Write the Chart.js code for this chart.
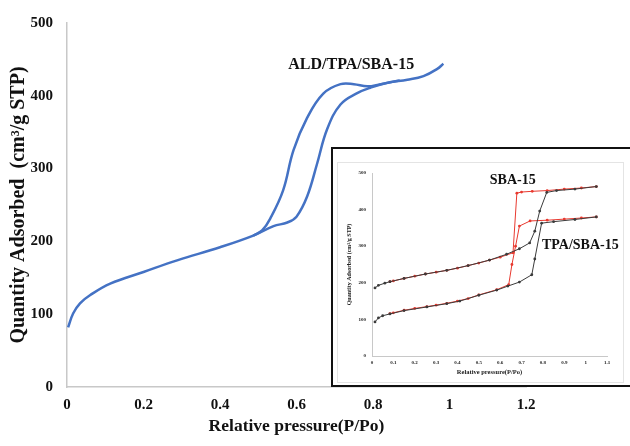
<!DOCTYPE html>
<html>

<head>
  <title>ALD/TPA/SBA-15</title>
  <script src="https://cdn.jsdelivr.net/npm/chart.js@4.4.1/dist/chart.umd.min.js"></script>
  <style>
    body { margin: 0; background: #fff; }
    #wrap { position: relative; width: 630px; height: 446px; overflow: hidden; }
    #inset { position: absolute; left: 331px; top: 147px; width: 310px; height: 236px; border: 2.5px solid #111; background: #fff; }
    #insetFrame { position: absolute; left: 4px; top: 13px; width: 285px; height: 219px; border: 1px solid #e4e4e4; }
  </style>
</head>

<body>
  <div id="wrap">
    <canvas id="main-chart" width="630" height="446"></canvas>
    <div id="inset">
      <div id="insetFrame">
        <canvas id="inset-chart" width="285" height="219"></canvas>
      </div>
    </div>
  </div>

  <script>
    // main isotherm (ALD/TPA/SBA-15), [P/Po, cm3/g]
    const aldAdsorption = [[0.003, 82], [0.016, 101], [0.034, 115], [0.06, 126], [0.113, 142], [0.2, 158], [0.288, 174],
      [0.4, 192], [0.487, 208], [0.54, 221], [0.576, 226], [0.6, 234], [0.628, 262], [0.654, 307], [0.68, 354],
      [0.715, 388], [0.76, 404], [0.793, 411], [0.838, 418], [0.89, 422], [0.932, 427], [0.968, 437], [0.984, 444]];
    const aldDesorption = [[0.87, 421], [0.82, 416], [0.785, 413], [0.75, 416], [0.715, 416], [0.67, 403], [0.628, 370],
      [0.592, 325], [0.565, 270], [0.531, 231], [0.51, 215], [0.487, 208]];

    // inset: SBA-15 and TPA/SBA-15
    const sbaAdsorption = [[0.014, 186], [0.03, 193], [0.06, 199], [0.084, 203], [0.15, 212], [0.25, 224], [0.35, 234],
      [0.45, 247], [0.55, 262], [0.63, 278], [0.69, 293], [0.738, 309], [0.762, 341], [0.785, 396], [0.818, 447],
      [0.864, 452], [0.95, 456], [1.05, 463]];
    const sbaDesorption = [[1.05, 463], [0.98, 459], [0.9, 456], [0.82, 452], [0.75, 450], [0.7, 448], [0.678, 445],
      [0.66, 282], [0.6, 270], [0.55, 262], [0.5, 254], [0.45, 247], [0.4, 240], [0.35, 234], [0.3, 229], [0.25, 224],
      [0.2, 218], [0.15, 212], [0.1, 205], [0.084, 203]];
    const tpaAdsorption = [[0.014, 93], [0.03, 104], [0.05, 110], [0.084, 115], [0.15, 124], [0.257, 134], [0.35, 143],
      [0.411, 150], [0.5, 166], [0.584, 180], [0.636, 191], [0.69, 202], [0.748, 222], [0.762, 265], [0.794, 363],
      [0.85, 367], [0.95, 373], [1.05, 380]];
    const tpaDesorption = [[1.05, 380], [0.98, 377], [0.9, 374], [0.82, 371], [0.74, 369], [0.69, 355], [0.672, 300],
      [0.655, 250], [0.64, 195], [0.584, 181], [0.5, 167], [0.45, 157], [0.4, 150], [0.35, 144], [0.3, 139],
      [0.257, 135], [0.2, 130], [0.15, 125], [0.1, 118], [0.084, 116]];

    const mainXTicks = ['0', '0.2', '0.4', '0.6', '0.8', '1', '1.2'];
    const mainYTicks = ['0', '100', '200', '300', '400', '500'];
    const insetXTicks = ['0', '0.1', '0.2', '0.3', '0.4', '0.5', '0.6', '0.7', '0.8', '0.9', '1', '1.1'];
    const insetYTicks = ['0', '100', '200', '300', '400', '500'];

    const serif = "'Liberation Serif', 'Times New Roman', serif";

    function toPoints(arr) {
      return arr.map(p => ({ x: p[0], y: p[1] }));
    }

    // draws text labels at data positions
    function makeNotes(items, font) {
      return {
        id: 'notes',
        afterDatasetsDraw(chart) {
          const ctx = chart.ctx;
          const x = chart.scales.x, y = chart.scales.y;
          ctx.save();
          ctx.font = font;
          ctx.fillStyle = '#111';
          ctx.textAlign = 'center';
          ctx.textBaseline = 'middle';
          items.forEach(it => ctx.fillText(it.text, x.getPixelForValue(it.x), y.getPixelForValue(it.y)));
          ctx.restore();
        }
      };
    }

    const blue = '#4472c4';
    new Chart(document.getElementById('main-chart'), {
      type: 'scatter',
      data: {
        datasets: [
          { data: toPoints(aldAdsorption), showLine: true, borderColor: blue, borderWidth: 2.5, pointRadius: 0, tension: 0.4 },
          { data: toPoints(aldDesorption), showLine: true, borderColor: blue, borderWidth: 2.5, pointRadius: 0, tension: 0.4 }
        ]
      },
      options: {
        responsive: false,
        animation: false,
        layout: { padding: { top: 22, right: 104, left: 0, bottom: 0 } },
        plugins: { legend: { display: false }, tooltip: { enabled: false } },
        scales: {
          x: {
            min: 0, max: 1.2,
            grid: { display: false, drawTicks: false },
            border: { color: '#c8c8c8', width: 1.5 },
            ticks: {
              stepSize: 0.2, padding: 9, color: '#111',
              font: { family: serif, weight: 'bold', size: 15 },
              callback: v => mainXTicks[Math.round(v / 0.2)]
            },
            title: {
              display: true, text: 'Relative pressure(P/Po)', color: '#111',
              font: { family: serif, weight: 'bold', size: 17.5 }, padding: { top: 0, bottom: 9 }
            },
            afterFit: s => { s.height = 59; }
          },
          y: {
            min: 0, max: 500,
            grid: { display: false, drawTicks: false },
            border: { color: '#c8c8c8', width: 1.5 },
            ticks: {
              stepSize: 100, padding: 14, color: '#111',
              font: { family: serif, weight: 'bold', size: 15 },
              callback: v => mainYTicks[Math.round(v / 100)]
            },
            title: {
              display: true, text: 'Quantity Adsorbed  (cm³/g STP)', color: '#111',
              font: { family: serif, weight: 'bold', size: 20 }, padding: { top: 7, bottom: 0 }
            },
            afterFit: s => { s.width = 67; }
          }
        }
      },
      plugins: [makeNotes([{ text: 'ALD/TPA/SBA-15', x: 0.743, y: 442 }], "bold 16px " + serif)]
    });

    const red = '#e8392f';
    const dark = '#3b3b3b';
    function insetLine(arr, color) {
      return {
        data: toPoints(arr), showLine: true, borderColor: color, borderWidth: 1,
        pointRadius: 1.4, pointBackgroundColor: color, pointBorderWidth: 0, tension: 0
      };
    }

    new Chart(document.getElementById('inset-chart'), {
      type: 'scatter',
      data: {
        datasets: [
          insetLine(sbaAdsorption, dark),
          insetLine(tpaAdsorption, dark),
          insetLine(sbaDesorption, red),
          insetLine(tpaDesorption, red)
        ]
      },
      options: {
        responsive: false,
        animation: false,
        layout: { padding: { top: 10, right: 16, left: 0, bottom: 0 } },
        plugins: { legend: { display: false }, tooltip: { enabled: false } },
        scales: {
          x: {
            min: 0, max: 1.1,
            grid: { display: false, drawTicks: false },
            border: { color: '#c8c8c8', width: 1 },
            ticks: {
              stepSize: 0.1, padding: 4, color: '#222',
              font: { family: serif, weight: 'bold', size: 5 },
              callback: v => insetXTicks[Math.round(v / 0.1)]
            },
            title: {
              display: true, text: 'Relative pressure(P/Po)', color: '#222',
              font: { family: serif, weight: 'bold', size: 6.5 }, padding: { top: 0, bottom: 6 }
            },
            afterFit: s => { s.height = 26; }
          },
          y: {
            min: 0, max: 500,
            grid: { display: false, drawTicks: false },
            border: { color: '#c8c8c8', width: 1 },
            ticks: {
              stepSize: 100, padding: 6, color: '#222',
              font: { family: serif, weight: 'bold', size: 5 },
              callback: v => insetYTicks[Math.round(v / 100)]
            },
            title: {
              display: true, text: 'Quantity Adsorbed (cm³/g STP)', color: '#222',
              font: { family: serif, weight: 'bold', size: 6 }, padding: { top: 8, bottom: 0 }
            },
            afterFit: s => { s.width = 34; }
          }
        }
      },
      plugins: [makeNotes([
        { text: 'SBA-15', x: 0.659, y: 481 },
        { text: 'TPA/SBA-15', x: 0.975, y: 303 }
      ], "bold 14px " + serif)]
    });
  </script>
</body>

</html>
